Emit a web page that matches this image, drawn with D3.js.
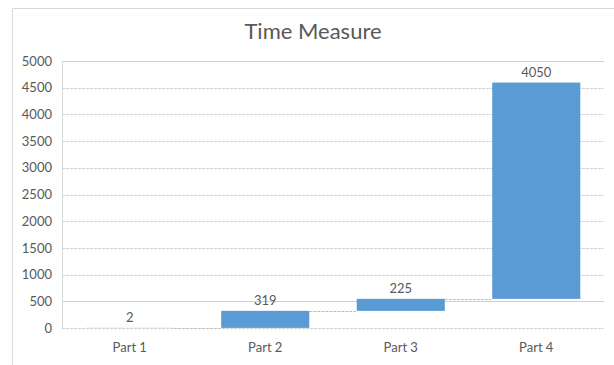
<!DOCTYPE html>
<html>
<head>
<meta charset="utf-8">
<script src="https://cdn.jsdelivr.net/npm/d3@7"></script>
<style>
  html, body { margin: 0; padding: 0; background: #fff; }
  svg text { font-family: Lato, "Open Sans", sans-serif; fill: #595959; }
</style>
</head>
<body>
<svg id="chart" width="614" height="365"></svg>
<script>
// Waterfall data: each part adds to the running total
const categories = ["Part 1", "Part 2", "Part 3", "Part 4"];
const increments = [2, 319, 225, 4050];
const yTicks = [0, 500, 1000, 1500, 2000, 2500, 3000, 3500, 4000, 4500, 5000];
const chartTitle = "Time Measure";

const svg = d3.select("#chart");
const W = 614, H = 365;
const plot = { left: 62, right: 604, top: 61, bottom: 328 };

// running totals -> start/end of each floating bar
let running = 0;
const steps = categories.map((c, i) => {
  const start = running;
  running += increments[i];
  return { cat: c, value: increments[i], start, end: running };
});

const x = d3.scaleBand().domain(categories)
  .range([plot.left, plot.right]).paddingInner(0.35).paddingOuter(0.175);
const y = d3.scaleLinear().domain([0, 5000]).range([plot.bottom, plot.top]);

// chart area frame (top and left edges visible)
svg.append("line").attr("x1", 12.5).attr("x2", W).attr("y1", 8.5).attr("y2", 8.5)
  .attr("stroke", "#d9d9d9").attr("stroke-width", 1);
svg.append("line").attr("x1", 12.5).attr("x2", 12.5).attr("y1", 8.5).attr("y2", H)
  .attr("stroke", "#d9d9d9").attr("stroke-width", 1);

// title
svg.append("text").attr("x", 313).attr("y", 39).attr("text-anchor", "middle")
  .style("font-size", "22px").text(chartTitle);

// gridlines
svg.append("g").selectAll("line").data(yTicks).join("line")
  .attr("x1", plot.left).attr("x2", plot.right)
  .attr("y1", d => Math.round(y(d)) + 0.5).attr("y2", d => Math.round(y(d)) + 0.5)
  .attr("stroke", "#d0d0d0").attr("stroke-width", 1)
  .attr("stroke-dasharray", d => (d === 5000 || d === 500) ? null : "3,1");

// plot area left edge
svg.append("line").attr("x1", plot.left + 0.5).attr("x2", plot.left + 0.5)
  .attr("y1", plot.top).attr("y2", plot.bottom)
  .attr("stroke", "#d9d9d9");

// y axis labels
const yAxis = d3.axisLeft(y).tickValues(yTicks).tickFormat(d3.format("d"))
  .tickSize(0).tickPadding(10);
const gy = svg.append("g").attr("transform", `translate(${plot.left},0)`).call(yAxis);
gy.select(".domain").remove();
gy.selectAll("text").style("font-size", "13px").style("font-family", "Lato, sans-serif")
  .attr("fill", "#595959");

// x axis labels
const xAxis = d3.axisBottom(x).tickSize(0).tickPadding(15);
const gx = svg.append("g").attr("transform", `translate(0,${plot.bottom})`).call(xAxis);
gx.select(".domain").remove();
gx.selectAll("text").style("font-size", "13px").style("font-family", "Lato, sans-serif")
  .attr("fill", "#595959");

// connector lines between consecutive bars
svg.append("g").selectAll("line").data(steps.slice(0, -1)).join("line")
  .attr("x1", d => x(d.cat) + x.bandwidth())
  .attr("x2", (d, i) => x(categories[i + 1]))
  .attr("y1", d => Math.round(y(d.end)) + 0.5)
  .attr("y2", d => Math.round(y(d.end)) + 0.5)
  .attr("stroke", "#bfbfbf").attr("stroke-dasharray", "3,1");

// floating bars
svg.append("g").selectAll("rect").data(steps).join("rect")
  .attr("x", d => x(d.cat))
  .attr("width", x.bandwidth())
  .attr("y", d => y(d.end))
  .attr("height", d => y(d.start) - y(d.end))
  .attr("fill", "#5b9bd5");

// value labels above each bar
svg.append("g").selectAll("text").data(steps).join("text")
  .attr("x", d => x(d.cat) + x.bandwidth() / 2)
  .attr("y", d => y(d.end) - 6)
  .attr("text-anchor", "middle")
  .style("font-size", "13px")
  .text(d => d.value);
</script>
</body>
</html>
